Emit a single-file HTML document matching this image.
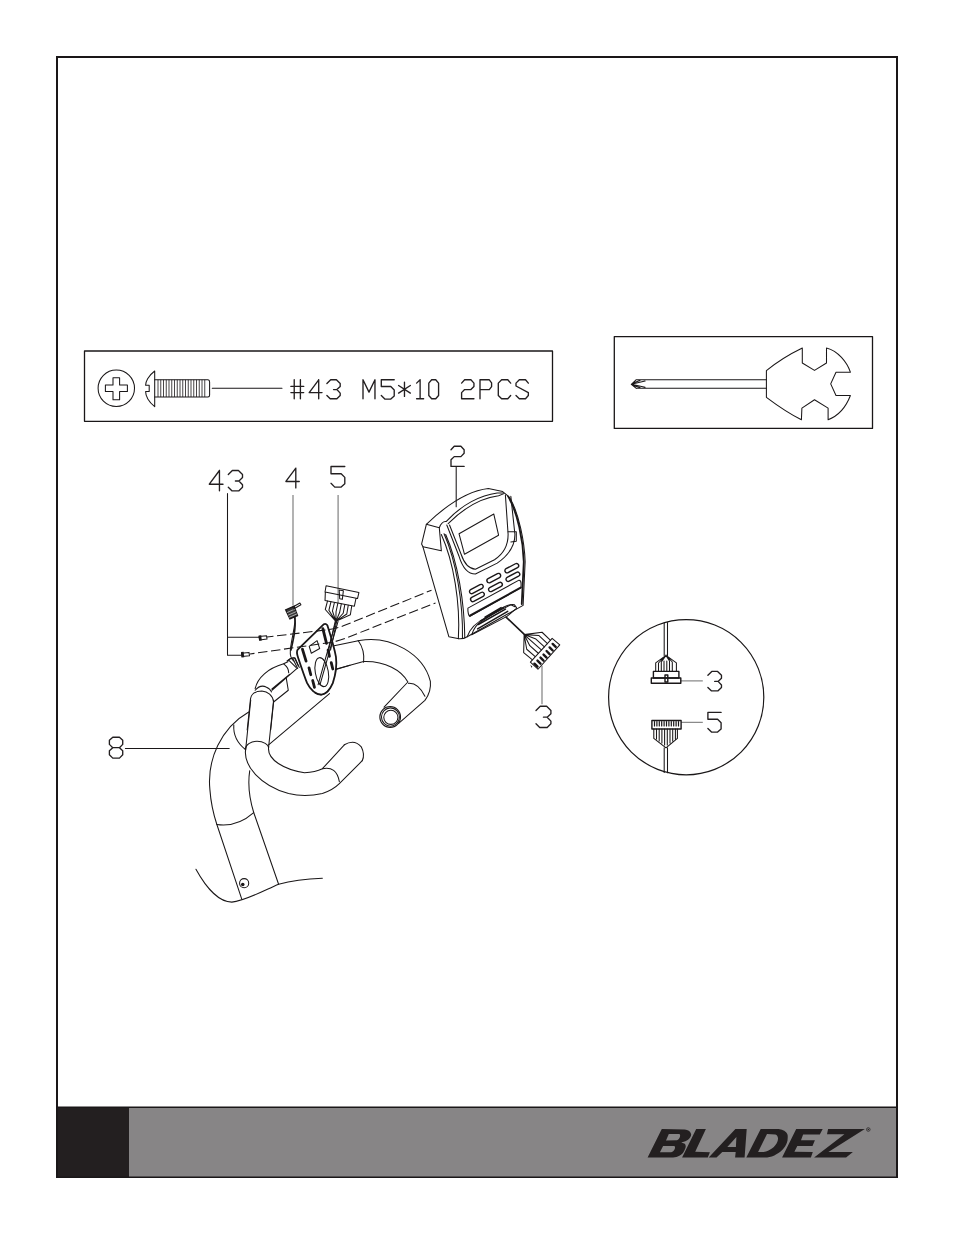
<!DOCTYPE html>
<html><head><meta charset="utf-8"><style>
html,body{margin:0;padding:0;background:#fff;}
body{width:954px;height:1235px;overflow:hidden;font-family:"Liberation Sans",sans-serif;}
svg{position:absolute;left:0;top:0;display:block}
.l{fill:none;stroke:#1a1718;stroke-width:1.05;vector-effect:non-scaling-stroke;stroke-linecap:round;stroke-linejoin:round}
.t{fill:none;stroke:#1a1718;stroke-width:1.8;vector-effect:non-scaling-stroke;stroke-linecap:round;stroke-linejoin:round}
.g{fill:none;stroke:#231f20;stroke-width:1.35;vector-effect:non-scaling-stroke;stroke-linecap:round;stroke-linejoin:round}
.gr{fill:none;stroke:#8a8a8a;stroke-width:1.3;vector-effect:non-scaling-stroke}
.f{fill:#1a1718;stroke:none}
.d{fill:none;stroke:#1a1718;stroke-width:1.05;vector-effect:non-scaling-stroke;stroke-dasharray:9.5 3.6}
</style></head><body>
<svg width="954" height="1235" viewBox="0 0 954 1235">

<path d="M57,1177 L57,57 L897,57 L897,1177" fill="none" stroke="#1a1718" stroke-width="2"/>
<rect x="56" y="1107" width="842" height="71" fill="#878586"/>
<rect x="56" y="1107" width="73" height="71" fill="#231f20"/>
<path d="M56,1107.3 L898,1107.3 M56,1177.3 L898,1177.3" stroke="#1a1718" stroke-width="1.4" fill="none"/>
<path d="M57,1107 L57,1178 M897,1107 L897,1178" stroke="#1a1718" stroke-width="2" fill="none"/>
<rect x="84.5" y="351" width="468" height="70.3" class="l" style="stroke-width:1.3"/>
<circle cx="116.3" cy="388.2" r="18.2" class="l"/>
<path class="l" d="M113,377.7 L119.6,377.7 L119.6,384.9 L127.4,384.9 L127.4,391.5 L119.6,391.5 L119.6,399.7 L113,399.7 L113,391.5 L105.4,391.5 L105.4,384.9 L113,384.9 Z"/>
<path class="l" d="M154.7,371 C148,376 145.6,382 145.6,385.2 L149.2,385.2 L149.2,391.4 L145.6,391.4 C145.6,395 148,401 154.7,406.7 Z"/>
<path class="l" d="M154.7,379.8 L208,379.8 Q209.6,380 209.6,382 L209.6,395 Q209.6,397 208,397 L154.7,397"/>
<path class="l" style="stroke-width:0.8" d="M158.00,380.2 L158.00,396.6 M160.75,380.2 L160.75,396.6 M163.50,380.2 L163.50,396.6 M166.25,380.2 L166.25,396.6 M169.00,380.2 L169.00,396.6 M171.75,380.2 L171.75,396.6 M174.50,380.2 L174.50,396.6 M177.25,380.2 L177.25,396.6 M180.00,380.2 L180.00,396.6 M182.75,380.2 L182.75,396.6 M185.50,380.2 L185.50,396.6 M188.25,380.2 L188.25,396.6 M191.00,380.2 L191.00,396.6 M193.75,380.2 L193.75,396.6 M196.50,380.2 L196.50,396.6 M199.25,380.2 L199.25,396.6 M202.00,380.2 L202.00,396.6 M204.75,380.2 L204.75,396.6 "/>
<path class="l" d="M212.3,388.2 L282,388.2"/>
<path class="g" transform="translate(290.9,379.8) scale(0.9500)" d="M3.5,0 L3.5,20 M10,0 L10,20 M0,7 L13.5,7 M0,13.5 L13.5,13.5"/>
<path class="g" transform="translate(309.2,379.8) scale(0.9500)" d="M10,0 L0,13.5 L13.5,13.5 M10,0 L10,20"/>
<path class="g" transform="translate(326.9,379.8) scale(0.9500)" d="M0,4 L4,0 L10,0 L14,4 L14,7 L10.5,10.3 L7,10.3 M10.5,10.3 L14,14 L14,16.5 L10.5,20 L3.5,20 L0,16.5"/>
<path class="g" transform="translate(363,379.8) scale(0.9500)" d="M0,20 L0,0 L6.3,13 L12.6,0 L12.6,20"/>
<path class="g" transform="translate(381.3,379.8) scale(0.9500)" d="M13.6,0 L0,0 L0,7.1 L10,7.1 L13.6,10.7 L13.6,17 L10,20.3 L3.7,20.3 L0,16.6"/>
<path class="g" transform="translate(398.3,379.8) scale(0.9500)" d="M6.5,2.5 L6.5,17.5 M0.3,6 L12.7,14 M0.3,14 L12.7,6"/>
<path class="g" transform="translate(416.6,379.8) scale(0.9500)" d="M0,3.5 L3.7,0 L3.7,20 M0,20 L7.4,20"/>
<path class="g" transform="translate(428.8,379.8) scale(0.9500)" d="M3,0 L7.3,0 L10.3,3.5 L10.3,16.5 L7.3,20 L3,20 L0,16.5 L0,3.5 Z"/>
<path class="g" transform="translate(461.6,379.8) scale(0.9500)" d="M0,3.5 L3.2,0 L9.8,0 L13,3.5 L13,7 L9.8,10.3 L3.2,10.3 L0,13.5 L0,20 L13,20"/>
<path class="g" transform="translate(480,379.8) scale(0.9500)" d="M0,20 L0,0 L9.8,0 L12.2,3.2 L12.2,7.2 L9.8,10.3 L0,10.3"/>
<path class="g" transform="translate(498.3,379.8) scale(0.9500)" d="M13,3.5 L10,0 L3.5,0 L0,3.5 L0,16.5 L3.5,20 L10,20 L13,16.5"/>
<path class="g" transform="translate(516,379.8) scale(0.9500)" d="M13,3.5 L10,0 L3.5,0 L0,3.5 L0,6.5 L13,13.5 L13,16.5 L10,20 L3.5,20 L0,16.5"/>
<rect x="614.3" y="336.6" width="258.2" height="91.8" class="l" style="stroke-width:1.3"/>
<path class="l" d="M636.3,379.7 L766.4,379.7 M636.3,388.3 L766.4,388.3 M636.3,379.7 L631.3,384.3 L636.3,388.4 M631.3,384.3 L645.1,381.1 M631.3,384.3 L645.1,387.2 M633,383 L640,380.5 M633,385.6 L640,387.6"/>
<path class="l" d="M766.4,370.7 C778,361 790,354 802.3,348 L802.3,363 L814.5,370.4 L826.5,363 L826.5,348 C838,351 847,362 850.4,372.2 L836,372.2 L830.7,383.9 L836,395.5 L850.4,395.5 C846,407 838,416 828.1,419.7 L828.1,408.1 L814.5,399.7 L801.9,408.1 L801.4,419.7 C790,414 778,406 766.4,397.3 Z"/>
<path class="g" transform="translate(209.3,470.5) scale(1.0150)" d="M10,0 L0,13.5 L13.5,13.5 M10,0 L10,20"/>
<path class="g" transform="translate(228.3,470.5) scale(1.0150)" d="M0,4 L4,0 L10,0 L14,4 L14,7 L10.5,10.3 L7,10.3 M10.5,10.3 L14,14 L14,16.5 L10.5,20 L3.5,20 L0,16.5"/>
<path class="g" transform="translate(285.9,468.1) scale(0.9900)" d="M10,0 L0,13.5 L13.5,13.5 M10,0 L10,20"/>
<path class="g" transform="translate(331,466.5) scale(1.0150)" d="M13.6,0 L0,0 L0,7.1 L10,7.1 L13.6,10.7 L13.6,17 L10,20.3 L3.7,20.3 L0,16.6"/>
<path class="g" transform="translate(451,446.2) scale(1.0100)" d="M0,3.5 L3.2,0 L9.8,0 L13,3.5 L13,7 L9.8,10.3 L3.2,10.3 L0,13.5 L0,20 L13,20"/>
<path class="g" transform="translate(536,706.2) scale(1.0650)" d="M0,4 L4,0 L10,0 L14,4 L14,7 L10.5,10.3 L7,10.3 M10.5,10.3 L14,14 L14,16.5 L10.5,20 L3.5,20 L0,16.5"/>
<path class="g" transform="translate(109.4,737.2) scale(1.0250)" d="M3.3,0 L9.8,0 L13,3 L13,7 L9.8,10.2 L3.3,10.2 L0,7 L0,3 Z M3.3,10.2 L9.8,10.2 L13,13.2 L13,17.2 L9.8,20.4 L3.3,20.4 L0,17.2 L0,13.2 Z"/>
<path class="g" transform="translate(707.9,671.4) scale(0.9700)" d="M0,4 L4,0 L10,0 L14,4 L14,7 L10.5,10.3 L7,10.3 M10.5,10.3 L14,14 L14,16.5 L10.5,20 L3.5,20 L0,16.5"/>
<path class="g" transform="translate(707.9,712.4) scale(0.9700)" d="M13.6,0 L0,0 L0,7.1 L10,7.1 L13.6,10.7 L13.6,17 L10,20.3 L3.7,20.3 L0,16.6"/>
<path class="l" d="M227.5,493.6 L227.5,655.2 M227.5,637.3 L258.8,637.3 M227.5,655.2 L241.2,655.2"/>
<path class="gr" d="M293,495 L293,605.6 M338.1,495 L338.1,603 M542,665.7 L542,704.2"/>
<path class="l" d="M456.2,466.8 L456.2,506.7 M125.4,748.4 L229.2,748.4"/>
<path class="gr" d="M680.8,680.8 L702.8,680.8 M681.1,722.4 L702.8,722.4"/>
<g fill="#231f20" fill-rule="evenodd">
<path d="M661.8,1129.1 L684.8,1129.4 C688,1129.8 690.1,1130.7 691.1,1133.9 C691.5,1136 689.5,1139.5 685.4,1141.2 L681.2,1142.5 L684.8,1143.8 C685.8,1145 686,1147 685.4,1148 C684.5,1151 682.7,1153.3 682.7,1153.3 C680.5,1155.5 678,1156.6 676.4,1156.9 C674,1157.3 672,1157.4 670.2,1157.4 L647.6,1157.4 Z M668.8,1133.9 L679.1,1133.9 C681.3,1134.4 679.8,1139 677,1140.2 L666,1140.4 Z M663.1,1145.9 L674.3,1145.9 C676,1146.8 674.8,1151.2 671.2,1152.2 L659.9,1152.2 Z"/>
<path d="M696.2,1129.1 L705.9,1129.1 L695.2,1151.7 L709.9,1152.2 L707.8,1157.4 L682.1,1157.4 Z"/>
<path d="M708.7,1157.4 L735.4,1129.1 L746.7,1129.1 L744.6,1157.4 L735.1,1157.4 L735.7,1151.9 L722.3,1151.9 L716.5,1157.4 Z M736.4,1137 L735.9,1147 L727.3,1147 Z"/>
<path d="M760.7,1129.1 L778.5,1129.1 C782,1129.4 784.8,1131.2 784.8,1131.2 C787,1132.8 787.9,1134.5 787.7,1136.5 C787.8,1139 787.5,1141 786.9,1142.8 C785.8,1145.5 784.5,1147.5 782.7,1149.6 C780,1152.5 777,1154.2 774.3,1155.4 C771,1156.8 768,1157.4 764.9,1157.4 L746.3,1157.4 Z M767,1134.1 L775.4,1134.4 C777,1134.8 778,1136.5 778,1138.6 C778,1140.5 777.3,1142.3 776.4,1143.8 C774.8,1146.3 772.5,1148.5 770.2,1149.6 C768,1151 765.5,1151.9 763.3,1151.9 L758.1,1151.9 Z"/>
<path d="M796.2,1129.1 L822.7,1129.1 L819.8,1134.4 L803.1,1134.4 L801,1140.2 L814.9,1140.2 L812.5,1145.9 L797.3,1145.9 L794.4,1151.7 L812.8,1151.9 L810.9,1157.4 L782.1,1157.4 Z"/>
<path d="M828.1,1129.1 L864.8,1129.1 L828.4,1151.9 L852.9,1151.9 L846.1,1157.4 L814.1,1157.4 L844.4,1134.2 L827,1134.2 Z"/>
</g>
<circle cx="868.3" cy="1129.5" r="1.8" fill="none" stroke="#231f20" stroke-width="0.7"/><circle cx="868.3" cy="1129.5" r="0.7" fill="#231f20"/>
<path class="d" style="stroke-dashoffset:3" d="M267,637 L328,629.7 Q336,628.8 344,625.6 L431.5,590.2"/>
<path class="d" style="stroke-dashoffset:5" d="M250,654 L329,642.7 Q337,641.5 345,638.4 L435.5,602.9"/>
<path class="l" d="M259,636.6 L266.5,635.7 L267,639 L259.5,640 Z"/><path class="f" d="M258.6,635.5 L261.2,635.2 L261.8,640.5 L259.2,640.8 Z"/>
<path class="l" d="M241.5,653.2 L249,652.4 L249.5,655.8 L242,656.6 Z"/><path class="f" d="M241,652 L243.6,651.7 L244.2,657.2 L241.6,657.5 Z"/>
<g transform="translate(185,700) scale(0.199161)">

<path class="l" d="M320,60 C180,140 110,300 125,450 C130,520 145,580 160,625 L285,1000"/>
<path class="l" d="M325,355 C315,420 325,500 345,565 L470,925"/>
<path class="l" d="M160,625 Q260,640 345,565"/>
<path class="l" d="M245,125 Q240,200 305,250"/>
<path class="l" d="M55,850 C110,950 175,1015 235,1015 C300,1010 400,955 470,925 Q560,900 690,895"/>
<circle class="l" cx="297" cy="920" r="23"/><circle class="f" cx="290" cy="926" r="9"/>
<path class="l" d="M330,0 L305,245 M445,0 L420,235"/>
<path class="l" d="M303,248 C303,225 330,207 362,207 C394,207 420,225 420,240"/>
<path class="l" d="M305,245 C290,330 380,430 520,470 Q600,490 690,470 Q745,450 775,420 L890,305"/>
<path class="l" d="M420,235 C410,300 500,350 600,365 Q655,362 690,345 L800,225"/>
<path class="l" d="M800,225 Q850,195 885,235 Q905,275 890,305"/>
<path class="l" d="M690,345 Q760,330 775,410"/>

</g>
<path class="l" d="M268.6,744.8 L329.5,693.6"/>
<g transform="translate(230,650) scale(0.083857)">

<path class="l" d="M205,954 L245,580 C260,500 330,490 380,490 C450,495 510,540 520,620 L485,954"/>
<path class="l" d="M300,480 Q360,410 430,440 Q480,460 495,500"/>
<path class="l" d="M300,460 C330,330 450,220 640,165 L690,140"/>
<path class="l" d="M640,165 Q700,210 700,270"/>
<path class="l" d="M500,480 L800,220 M500,465 L710,290"/>
<path class="l" d="M670,330 L695,480 L520,620"/>
<path class="l" d="M680,130 Q720,90 770,95 L815,190 M700,120 L790,210"/>

</g>
<g transform="translate(320,620) scale(0.136268)">

<path class="l" d="M95,190 L290,150 C520,110 760,250 810,450 C815,500 800,550 770,590 L575,760"/>
<path class="l" d="M120,360 L320,305 C480,300 600,370 645,455 L470,640"/>
<path class="l" d="M280,150 Q330,220 320,310"/>
<path class="l" d="M650,465 Q720,460 770,560"/>
<ellipse class="l" cx="515" cy="712" rx="76" ry="77"/>
<ellipse class="l" cx="517" cy="712" rx="66" ry="67"/>
<ellipse class="l" cx="520" cy="714" rx="52" ry="52"/>

</g>
<g transform="translate(250,615) scale(0.104822)">

<path class="l" d="M430,0 C440,80 400,200 385,330 C380,390 390,420 420,440"/>
<path class="t" d="M455,330 L705,88 Q722,78 738,98 C760,170 800,290 820,400 C830,480 820,560 790,650 C760,720 720,755 680,760 C630,755 580,720 545,650 C520,590 490,500 460,410 C445,370 445,345 455,330 Z"/>
<path class="l" d="M620,745 Q700,795 765,700"/>
<path class="t" style="stroke-width:2.8" d="M695,130 L730,270 M500,325 L535,440 M563,505 L580,570 M598,625 L615,690 M745,335 L758,395 M775,455 L790,515"/>
<path class="l" d="M565,300 L640,245 L665,320 L585,365 Z"/>
<ellipse class="l" cx="685" cy="545" rx="62" ry="140" transform="rotate(-10 685 545)"/>
<path class="l" d="M820,60 L650,665 M840,60 L668,665"/>
<path class="l" d="M360,440 Q390,400 430,410 L470,500 M410,420 L455,510"/>
<path class="l" d="M820,520 L954,480"/>

</g>
<g transform="translate(270,570) scale(0.104822)">

<path d="M150,380 L230,345 L262,435 L190,465 Z" fill="#3a3a3a" stroke="#1a1718" stroke-width="1.4" vector-effect="non-scaling-stroke"/><path class="l" stroke="#fff" style="stroke:#ddd;stroke-width:0.7" d="M165,405 L240,372 M175,430 L248,398 M182,452 L255,420"/>
<path class="l" d="M215,355 L285,315 L295,332 L225,372"/>
<path class="l" style="stroke-width:1.6" d="M235,455 C250,520 240,600 200,763"/>
<path class="l" d="M535,150 L848,215 L835,272 L525,210 Z M528,210 L525,290 L805,345 L820,272"/>
<path class="l" d="M660,190 L700,198 L690,280 L665,275 Z"/>
<path class="l" d="M548.4,297.0 L527.4,376.8 L628.2,490.2 M581.4,303.6 L561.6,384.0 L628.2,490.2 M614.4,310.2 L595.8,391.2 L628.2,490.2 M647.4,316.8 L630.0,398.3 L628.2,490.2 M680.4,323.4 L664.2,405.5 L628.2,490.2 M713.5,330.0 L698.3,412.7 L628.2,490.2 M746.5,336.6 L732.5,419.9 L628.2,490.2 M779.5,343.2 L766.7,427.1 L628.2,490.2"/>
<path class="l" d="M622.2,490.2 L560,763 M636.2,490.2 L578,763"/>

</g>
<g transform="translate(500,610) scale(0.101266)">

<path class="l" style="stroke-width:1.6" d="M60,70 L240,240"/>
<path class="l" d="M238.3,243 L415.3,219.7 L499.2,298.9 M238.3,243 L385,252.3 L468.9,331.5 M238.3,243 L354.8,287.2 L438.6,364.1 M238.3,243 L324.5,319.8 L408.3,394.3 M238.3,243 L294.2,352.4 L378.1,427 M238.3,243 L263.9,387.4 L347.8,459.6 M238.3,243 L233.6,420 L317.5,489.8"/>
<path class="l" d="M300,515 L515,280 L590,345 L375,585 Z"/>
<path class="t" style="stroke-width:2.4" d="M340,530 L370,560 M370,500 L400,530 M400,470 L430,500 M430,440 L460,470 M460,405 L490,435 M490,370 L520,400 M520,335 L550,365"/>
<path class="f" d="M300,540 L320,560 L310,570 Z"/>

</g>
<g transform="translate(410,480) scale(0.136268)">

<path class="l" d="M120,325 C250,200 420,80 575,62 L680,85 C700,100 720,115 735,135 C800,250 840,450 845,600 L830,920 L420,1150 Q390,1168 360,1165 L285,1150 L95,490 L85,470 L120,325 Z"/>
<path class="l" d="M120,325 L215,350 L230,520 L95,490"/>
<path class="l" d="M215,350 Q235,300 265,305 C380,180 520,110 640,95 L685,95"/>
<path class="l" d="M280,320 C400,200 530,130 650,115 L690,100"/>
<path class="l" d="M230,400 C320,600 370,900 355,1165 M250,395 C340,600 390,900 385,1160 M262,400 C350,600 400,900 402,1158"/>
<path class="l" d="M270,330 L360,560 Q400,690 480,690 L640,610 Q770,520 770,400 L740,120"/>
<path class="l" d="M290,330 L375,545 Q410,650 480,655 L620,585 Q720,520 720,400 L700,110"/>
<path class="l" d="M360,395 L615,250 L650,405 L400,545 Z"/>
<path class="l" d="M720,380 L780,380 L780,450 L740,455"/>
<path class="l" style="stroke-width:1.8" d="M720,120 C790,240 830,440 835,600 L820,910"/>
<g transform="rotate(-28 487 800)"><rect class="l" style="stroke-width:1.4" x="432" y="784" width="110" height="32" rx="16"/></g>
<g transform="rotate(-28 495 858)"><rect class="l" style="stroke-width:1.4" x="440" y="842" width="110" height="32" rx="16"/></g>
<g transform="rotate(-28 615 720)"><rect class="l" style="stroke-width:1.4" x="560" y="704" width="110" height="32" rx="16"/></g>
<g transform="rotate(-28 627 785)"><rect class="l" style="stroke-width:1.4" x="572" y="769" width="110" height="32" rx="16"/></g>
<g transform="rotate(-28 747 647)"><rect class="l" style="stroke-width:1.4" x="692" y="631" width="110" height="32" rx="16"/></g>
<g transform="rotate(-28 755 710)"><rect class="l" style="stroke-width:1.4" x="700" y="694" width="110" height="32" rx="16"/></g>
<path class="l" d="M425,940 L800,735 Q815,735 815,760 L815,790 L440,1000 Q430,1000 425,960 Z"/>
<path class="l" style="stroke-width:2" d="M440,996 L812,790"/>
<path class="l" d="M420,1150 Q450,1060 560,1010 L740,915 L770,930"/>
<path class="l" d="M452.8,1135.9 Q474.8,1065.5 528.3,1034.7 L689.8,931.9 Q744,907 765.3,915 L781.5,936.3 M452.8,1135.9 L711.8,1000.9 L781.5,941.5"/>
<path class="l" style="stroke-width:1.5" d="M496,1092.6 L717,963.5 M501.2,1060.4 L700.8,947.3 M517.3,1033.2 L684.7,936.3 M550.4,1006 L668.5,936.3"/>

</g>
<circle class="l" cx="686.2" cy="697.2" r="77.6" style="stroke-width:1.2"/>
<path class="l" d="M664.2,623 L664.2,655.4 M667.5,622.5 L667.5,655.4"/>
<path class="l" d="M666,655.4 L655.7,662.9 L655.7,671.4 M666,655.4 L676.4,662.9 L676.4,671.4 M658.5,663 L658.5,671.4 M661.3,662 L661.3,671.4 M664,661 L664,671.4 M666.8,661 L666.8,671.4 M669.5,661 L669.5,671.4 M672.3,662 L672.3,671.4 M666,655.4 L658.5,663 M666,655.4 L661.3,662 M666,655.4 L672.3,662 M666,655.4 L669.5,661"/>
<rect class="l" style="stroke-width:1.4" x="653.4" y="671.4" width="25.5" height="6.6"/><rect class="l" style="stroke-width:1.4" x="651.3" y="678" width="29.5" height="5.3"/><rect class="l" style="stroke-width:1.4" x="665" y="675" width="2.8" height="7"/>
<rect class="l" style="stroke-width:1.4" x="651.9" y="720.5" width="29.2" height="8.5"/>
<path class="l" style="stroke-width:1.2" d="M654.50,721.5 L654.50,726 M656.90,721.5 L656.90,726 M659.30,721.5 L659.30,726 M661.70,721.5 L661.70,726 M664.10,721.5 L664.10,726 M666.50,721.5 L666.50,726 M668.90,721.5 L668.90,726 M671.30,721.5 L671.30,726 M673.70,721.5 L673.70,726 M676.10,721.5 L676.10,726 M678.50,721.5 L678.50,726 "/>
<path class="l" d="M653.8,729 L653.8,738.4 L666,747.8 L677.4,738.4 L677.4,729 M656.5,729 L656.5,739 M659.2,729 L659.2,741 M661.9,729 L661.9,743 M664.6,729 L664.6,745 M667.3,729 L667.3,745 M670,729 L670,743 M672.7,729 L672.7,741 M675.4,729 L675.4,739"/>
<path class="l" d="M664.2,747.8 L664.2,772.5 M667.5,747.8 L667.5,772.8"/>
</svg></body></html>
